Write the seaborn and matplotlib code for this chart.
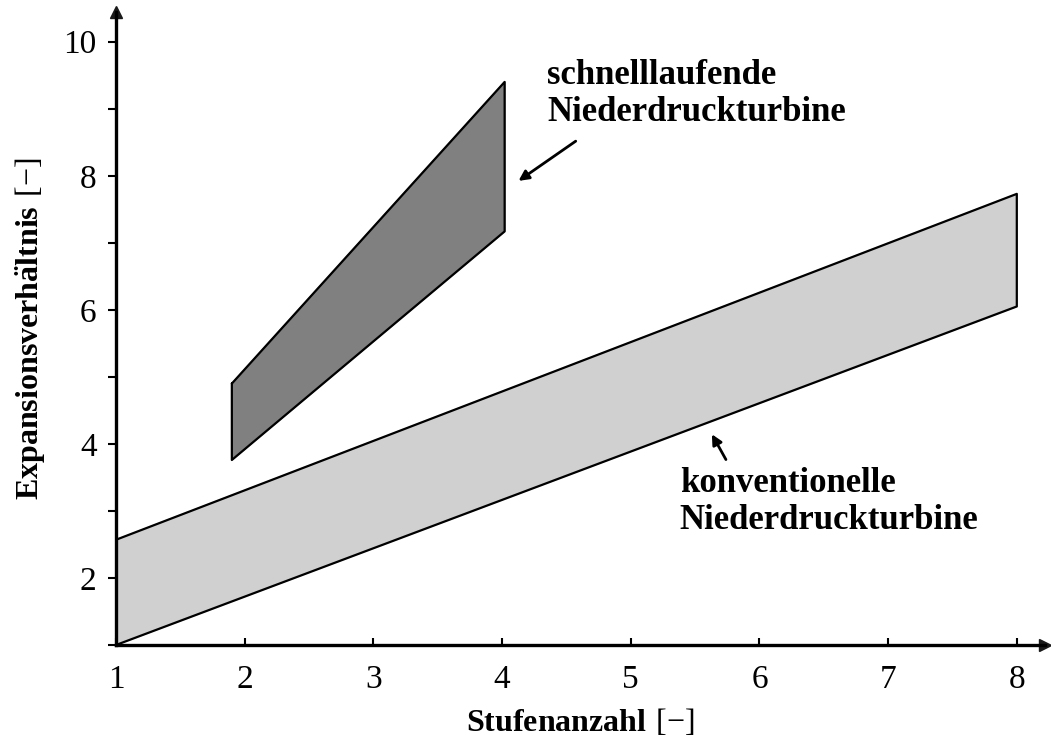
import matplotlib
matplotlib.use("Agg")
import matplotlib.pyplot as plt
import seaborn as sns
import pandas as pd

# data (polygon corners)
fast_x = [1.90, 4.02, 4.02, 1.90, 1.90]
fast_y = [4.90, 9.40, 7.17, 3.76, 4.90]
conv_x = [1.00, 8.00, 8.00, 1.00, 1.00]
conv_y = [2.57, 7.73, 6.05, 1.00, 2.57]
x_ticks = [1, 2, 3, 4, 5, 6, 7, 8]
y_ticks = [1, 2, 3, 4, 5, 6, 7, 8, 9, 10]
y_labels = ["", "2", "", "4", "", "6", "", "8", "", "10"]

sns.set_theme(style="white")
plt.rcParams["font.family"] = ["Liberation Serif", "DejaVu Serif"]
plt.rcParams["mathtext.fontset"] = "custom"
plt.rcParams["mathtext.rm"] = "Liberation Serif"
plt.rcParams["mathtext.bf"] = "Liberation Serif:bold"

fig = plt.figure(figsize=(10.51, 7.40), dpi=100)
ax = fig.add_axes([0.1104, 0.1284, 0.884, 0.856])

ax.fill(conv_x, conv_y, color="#d0d0d0", zorder=1)
ax.fill(fast_x, fast_y, color="#808080", zorder=1)
df_c = pd.DataFrame({"x": conv_x, "y": conv_y})
df_f = pd.DataFrame({"x": fast_x, "y": fast_y})
sns.lineplot(data=df_c, x="x", y="y", sort=False, color="black", lw=1.6, ax=ax, zorder=2, estimator=None)
sns.lineplot(data=df_f, x="x", y="y", sort=False, color="black", lw=1.6, ax=ax, zorder=2, estimator=None)

ax.set_xlim(1, 8.22)
ax.set_ylim(1, 10.45)
for s in ["top", "right"]:
    ax.spines[s].set_visible(False)
for s in ["left", "bottom"]:
    ax.spines[s].set_linewidth(2.4)
    ax.spines[s].set_color("black")
    ax.spines[s].set_zorder(3)

# axis arrows
ax.plot(1, 0, ">k", transform=ax.transAxes, clip_on=False, ms=9)
ax.plot(0, 1, "^k", transform=ax.transAxes, clip_on=False, ms=9)

ax.set_xticks(x_ticks)
ax.set_xticklabels([str(v) for v in x_ticks])
ax.set_yticks(y_ticks)
ax.set_yticklabels(y_labels)
ax.tick_params(axis="x", bottom=True, direction="in", length=5, width=1.5, labelsize=24, pad=14,
               color="black", labelcolor="black")
ax.tick_params(axis="y", left=True, direction="out", length=6, width=1.5, labelsize=24, pad=8,
               color="black", labelcolor="black")

ax.set_xlabel(r"$\mathbf{Stufenanzahl}\ [-]$", fontsize=23, labelpad=9, color="black")
ax.set_ylabel(r"$\mathbf{Expansionsverh\ddot{a}ltnis}\ [-]$", fontsize=23, labelpad=12, color="black")

ax.text(4.35, 9.74, "schnelllaufende\nNiederdruckturbine", fontsize=25, fontweight="bold",
        ha="left", va="top", linespacing=1.15, color="black")
ax.annotate("", xy=(4.11, 7.90), xytext=(4.59, 8.54),
            arrowprops=dict(arrowstyle="-|>", color="black", lw=2, mutation_scale=15))

ax.text(5.38, 3.65, "konventionelle\nNiederdruckturbine", fontsize=25, fontweight="bold",
        ha="left", va="top", linespacing=1.15, color="black")
ax.annotate("", xy=(5.62, 4.18), xytext=(5.75, 3.73),
            arrowprops=dict(arrowstyle="-|>", color="black", lw=2, mutation_scale=15))

fig.savefig("out.png", dpi=100)
